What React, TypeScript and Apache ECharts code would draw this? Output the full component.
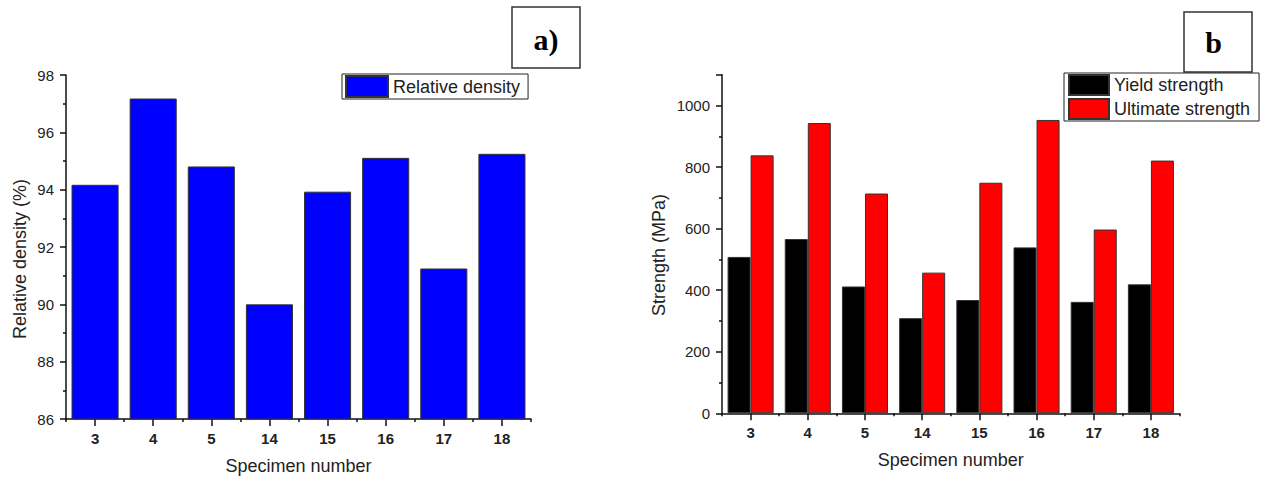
import React, { useEffect, useRef } from "react";
import * as echarts from "echarts";

const specimens = ["3", "4", "5", "14", "15", "16", "17", "18"];
const relativeDensity = [94.17, 97.18, 94.81, 90.0, 93.93, 95.11, 91.25, 95.25];
const yieldStrength = [508, 566, 412, 309, 368, 539, 362, 419];
const ultimateStrength = [838, 943, 714, 457, 749, 953, 597, 821];

const FONT = "'Liberation Sans', Arial, sans-serif";
const SERIF = "'Liberation Serif', 'Times New Roman', serif";

export default function App() {
  const ref = useRef<HTMLDivElement>(null);
  useEffect(() => {
    if (!ref.current) return;
    const chart = echarts.init(ref.current, undefined, { renderer: "svg" });
    const axisLine = { show: true, lineStyle: { color: "#111", width: 1.5 } };
    const yAxisCommon = {
      type: "value" as const,
      axisLine,
      axisTick: { show: true, length: 6, lineStyle: { color: "#111", width: 1.5 } },
      minorTick: { show: true, splitNumber: 2, length: 3, lineStyle: { color: "#111", width: 1.5 } },
      splitLine: { show: false },
      axisLabel: {
        color: "#222",
        fontSize: 15,
        fontFamily: FONT,
        margin: 12,
        formatter: (v: number) => String(v),
      },
    };
    const xMain = (gridIndex: number) => ({
      type: "category" as const,
      gridIndex,
      data: specimens,
      position: "bottom" as const,
      axisLine,
      axisTick: { show: true, length: 3, lineStyle: { color: "#111", width: 1.5 } },
      axisLabel: { color: "#222", fontSize: 15, fontWeight: "bold" as const, fontFamily: FONT, margin: 12 },
      name: "Specimen number",
      nameLocation: "middle" as const,
      nameGap: 38,
      nameTextStyle: { color: "#222", fontSize: 18, fontFamily: FONT },
    });
    const xCenter = (gridIndex: number) => ({
      type: "category" as const,
      gridIndex,
      data: specimens,
      position: "bottom" as const,
      axisLine: { show: false },
      axisTick: { show: true, alignWithLabel: true, length: 7, lineStyle: { color: "#111", width: 1.5 } },
      axisLabel: { show: false },
    });
    const legendCommon = {
      icon: "rect",
      borderColor: "#222",
      borderWidth: 1,
      backgroundColor: "#fff",
      textStyle: { color: "#222", fontSize: 18, fontFamily: FONT },
    };
    chart.setOption({
      animation: false,
      backgroundColor: "#fff",
      grid: [
        { left: 66, top: 75, width: 465, height: 345 },
        { left: 722, top: 74.7, width: 457.5, height: 338.6 },
      ],
      xAxis: [xMain(0), xCenter(0), xMain(1), xCenter(1)],
      yAxis: [
        { ...yAxisCommon, gridIndex: 0, min: 86, max: 98, interval: 2 },
        {
          ...yAxisCommon,
          gridIndex: 1,
          min: 0,
          max: 1100,
          interval: 200,
          axisLabel: { ...yAxisCommon.axisLabel, showMaxLabel: false },
        },
      ],
      legend: [
        {
          ...legendCommon,
          data: ["Relative density"],
          left: 342,
          top: 74,
          itemWidth: 42,
          itemHeight: 21,
          itemGap: 0,
          padding: [1, 8, 1, 3],
        },
        {
          ...legendCommon,
          data: ["Yield strength", "Ultimate strength"],
          orient: "vertical",
          left: 1064,
          top: 73,
          itemWidth: 40,
          itemHeight: 20,
          itemGap: 2,
          padding: [1, 9, 1, 4],
        },
      ],
      series: [
        {
          name: "Relative density",
          type: "bar",
          xAxisIndex: 0,
          yAxisIndex: 0,
          data: relativeDensity,
          barCategoryGap: "19%",
          itemStyle: { color: "#0000ff", borderColor: "#333", borderWidth: 1 },
        },
        {
          name: "Yield strength",
          type: "bar",
          xAxisIndex: 2,
          yAxisIndex: 1,
          data: yieldStrength,
          barGap: "0%",
          barCategoryGap: "19.5%",
          itemStyle: { color: "#000", borderColor: "#333", borderWidth: 1 },
        },
        {
          name: "Ultimate strength",
          type: "bar",
          xAxisIndex: 2,
          yAxisIndex: 1,
          data: ultimateStrength,
          barGap: "0%",
          barCategoryGap: "19.5%",
          itemStyle: { color: "#ff0000", borderColor: "#333", borderWidth: 1 },
        },
      ],
      graphic: [
        {
          type: "text",
          x: 19.5,
          y: 259,
          rotation: Math.PI / 2,
          style: {
            text: "Relative density (%)",
            font: `18px ${FONT}`,
            fill: "#222",
            align: "center",
            verticalAlign: "middle",
          },
        },
        {
          type: "text",
          x: 659,
          y: 255,
          rotation: Math.PI / 2,
          style: {
            text: "Strength (MPa)",
            font: `18px ${FONT}`,
            fill: "#222",
            align: "center",
            verticalAlign: "middle",
          },
        },
        {
          type: "rect",
          shape: { x: 512, y: 7, width: 68, height: 61 },
          style: { fill: "#fff", stroke: "#333", lineWidth: 1.5 },
        },
        {
          type: "text",
          x: 546,
          y: 39,
          style: {
            text: "a)",
            font: `bold 30px ${SERIF}`,
            fill: "#000",
            align: "center",
            verticalAlign: "middle",
          },
        },
        {
          type: "rect",
          shape: { x: 1184, y: 12, width: 68, height: 60 },
          style: { fill: "#fff", stroke: "#333", lineWidth: 1.5 },
        },
        {
          type: "text",
          x: 1213.5,
          y: 42,
          style: {
            text: "b",
            font: `bold 30px ${SERIF}`,
            fill: "#000",
            align: "center",
            verticalAlign: "middle",
          },
        },
      ],
    });
    return () => chart.dispose();
  }, []);
  return (
    <div
      ref={ref}
      style={{ position: "fixed", left: 0, top: 0, width: 1266, height: 480, background: "#fff" }}
    />
  );
}
